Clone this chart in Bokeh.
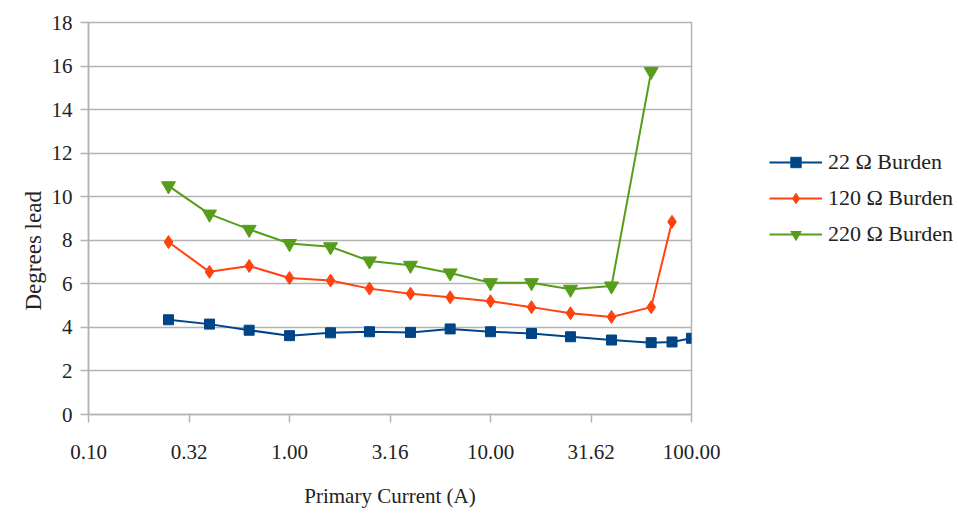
import math
from bokeh.plotting import figure
from bokeh.models import (FixedTicker, CustomJSTickFormatter, Legend, LegendItem,
                          Title, Range1d)
from bokeh.embed import file_html
from bokeh.resources import INLINE

# Data
current = [0.25, 0.4, 0.63, 1.0, 1.6, 2.5, 4.0, 6.3, 10.0, 16.0, 25.0, 40.0, 63.0, 80.0, 100.0]
burden_22 = [4.35, 4.15, 3.87, 3.62, 3.75, 3.8, 3.77, 3.93, 3.8, 3.72, 3.57, 3.42, 3.3, 3.33, 3.5]
burden_120 = [7.92, 6.55, 6.82, 6.27, 6.15, 5.78, 5.55, 5.38, 5.2, 4.93, 4.65, 4.48, 4.93, 8.85]
burden_220 = [10.5, 9.2, 8.5, 7.85, 7.7, 7.05, 6.85, 6.5, 6.05, 6.05, 5.75, 5.9, 15.75]
series_names = ["22 Ω Burden", "120 Ω Burden", "220 Ω Burden"]
x_ticks = [0.1, 10 ** -0.5, 1.0, 10 ** 0.5, 10.0, 10 ** 1.5, 100.0]
y_ticks = [0, 2, 4, 6, 8, 10, 12, 14, 16, 18]

FONT = "'Liberation Serif', serif"
GRID = "#b3b3b3"
TXT = "#222222"
FS = "21px"

p = figure(frame_width=603, frame_height=392, x_axis_type="log",
           x_range=Range1d(0.1, 100), y_range=Range1d(0, 18),
           output_backend="svg", toolbar_location=None,
           min_border_left=88, min_border_right=0,
           min_border_top=22, min_border_bottom=100)
p.outline_line_color = GRID
p.outline_line_width = 1.5

p.xgrid.visible = False
p.ygrid.ticker = FixedTicker(ticks=y_ticks)
p.ygrid.grid_line_color = GRID
p.ygrid.grid_line_width = 1.5

p.xaxis.ticker = FixedTicker(ticks=x_ticks, minor_ticks=[])
p.xaxis.formatter = CustomJSTickFormatter(code="return tick.toFixed(2);")
p.yaxis.ticker = FixedTicker(ticks=y_ticks, minor_ticks=[])

for ax in (p.xaxis[0], p.yaxis[0]):
    ax.axis_line_color = GRID
    ax.axis_line_width = 1.5
    ax.major_tick_line_color = GRID
    ax.major_tick_line_width = 1.5
    ax.major_tick_in = 0
    ax.major_tick_out = 8
    ax.minor_tick_line_color = None
    ax.major_label_text_font = FONT
    ax.major_label_text_font_size = FS
    ax.major_label_text_color = TXT

p.xaxis.major_label_standoff = 22
p.yaxis.major_label_standoff = 8
p.xaxis.axis_label = "Primary Current (A)"
p.xaxis.axis_label_text_font = FONT
p.xaxis.axis_label_text_font_size = FS
p.xaxis.axis_label_text_font_style = "normal"
p.xaxis.axis_label_text_color = TXT
p.xaxis.axis_label_standoff = 22

ylab = Title(text="Degrees lead", align="left", offset=104,
             text_font=FONT, text_font_size="23px", text_font_style="normal",
             text_color=TXT, standoff=6)
p.add_layout(ylab, "left")

colors = ["#004586", "#ff420e", "#579d1c"]
markers = ["square", "diamond", "inverted_triangle"]
sizes = [10, 13, 14]
ys = [burden_22, burden_120, burden_220]

items = []
for name, y, c, m, s in zip(series_names, ys, colors, markers, sizes):
    xs = current[:len(y)]
    r1 = p.line(xs, y, line_color=c, line_width=2)
    r2 = p.scatter(xs, y, marker=m, size=s, fill_color=c, line_color=c)
    items.append(LegendItem(label=name, renderers=[r1, r2]))

legend = Legend(items=items, location=(78, 167),
                border_line_alpha=0, background_fill_alpha=0,
                padding=0, margin=0, glyph_width=53, glyph_height=26,
                label_height=26, spacing=10, label_standoff=6,
                label_text_font=FONT, label_text_font_size="22px",
                label_text_color=TXT)
p.add_layout(legend, "right")

open("out.html", "w").write(file_html(p, INLINE))
